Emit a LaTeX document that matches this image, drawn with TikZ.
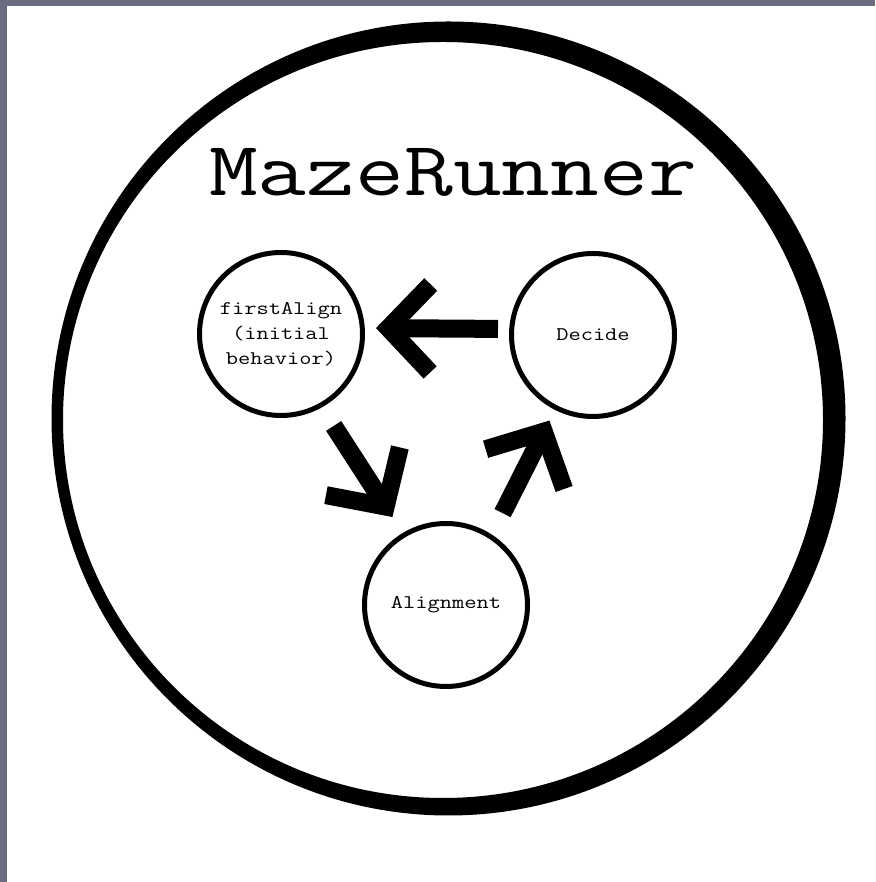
\documentclass[tikz,border=0pt]{standalone}
\usepackage{fontspec}
\newfontfamily\mazemono[FakeStretch=1.23]{Latin Modern Mono}
\usetikzlibrary{arrows.meta,positioning}
\definecolor{framegray}{RGB}{106,109,128}

\begin{document}
\begin{tikzpicture}[
  x=1pt, y=1pt,
  behav/.style={draw, circle, line width=5pt, minimum size=163pt, inner sep=0pt,
                font=\mazemono\fontsize{19.3}{25}\selectfont, align=center},
  bigarrow/.style={line width=18pt,
                   -{Straight Barb[length=42pt, width=88pt, sharp]}}
]

% frame
\fill[framegray] (0,0) rectangle (875,882);
\fill[white] (7,0) rectangle (875,876);

% outer ring
\fill[black, even odd rule] (448.5,463.5) circle (397pt)
  (443,462) ellipse (380pt and 378pt);

% title
\node[font=\mazemono\fontsize{77}{90}\selectfont, anchor=base] (title) at (453,686) {MazeRunner};

% behaviours
\node[behav] (firstAlign) at (281,548) {firstAlign\\(initial\\behavior)};
\node[behav] (decide) at (593,547) {Decide};
\node[behav] (alignment) at (446,277) {Alignment};

% transitions
\draw[bigarrow, shorten <=11pt, shorten >=11pt]
  ([yshift=6pt]decide.west) -- ([yshift=6pt]firstAlign.east);
\draw[bigarrow, shorten <=22pt, shorten >=19pt] (firstAlign.-61) -- (alignment.121);
\draw[bigarrow, shorten <=24pt, shorten >=12pt] (alignment.57) -- (decide.243);

\end{tikzpicture}
\end{document}
